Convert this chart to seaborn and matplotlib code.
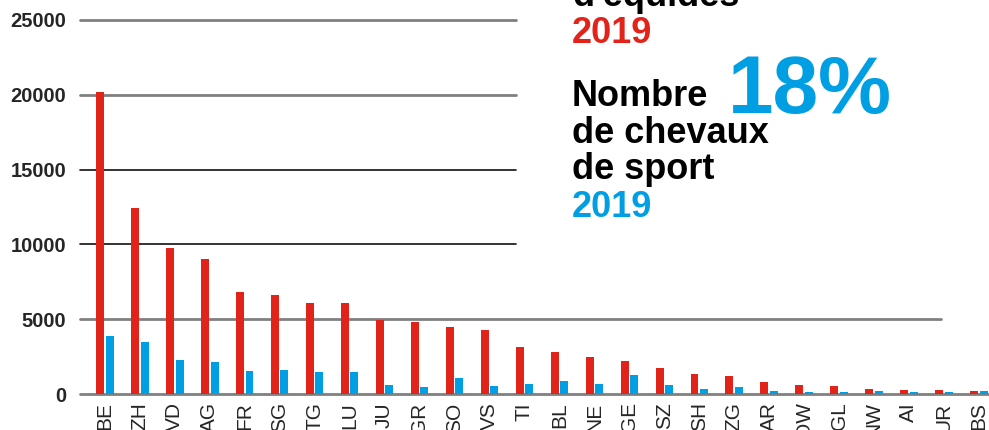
import numpy as np
import pandas as pd
import seaborn as sns
import matplotlib.pyplot as plt

# cantons, sorted by total number of equids
cantons = ['BE', 'ZH', 'VD', 'AG', 'FR', 'SG', 'TG', 'LU', 'JU', 'GR', 'SO', 'VS', 'TI',
           'BL', 'NE', 'GE', 'SZ', 'SH', 'ZG', 'AR', 'OW', 'GL', 'NW', 'AI', 'UR', 'BS']
equides_2019 = [20150, 12450, 9750, 9000, 6800, 6600, 6050, 6050, 4950, 4800, 4450, 4270, 3140,
                2800, 2470, 2200, 1740, 1340, 1200, 800, 600, 530, 330, 270, 270, 200]
sport_2019 = [3850, 3500, 2270, 2140, 1540, 1600, 1470, 1470, 600, 470, 1070, 530, 670,
              870, 670, 1270, 600, 330, 470, 200, 130, 130, 200, 130, 130, 200]
y_ticks = [0, 5000, 10000, 15000, 20000, 25000]

red = '#E2231A'
blue = '#009FE3'

df = pd.DataFrame({'canton': cantons * 2,
                   'serie': ['equides'] * len(cantons) + ['sport'] * len(cantons),
                   'nombre': equides_2019 + sport_2019})

sns.set_style('white')
plt.rcParams['font.family'] = ['Liberation Sans', 'DejaVu Sans']

fig = plt.figure(figsize=(9.89, 4.30), dpi=100)
ax = fig.add_axes([80 / 989, 36 / 430, 909 / 989, 394 / 430])

sns.barplot(data=df, x='canton', y='nombre', hue='serie', hue_order=['equides', 'sport'],
            palette=[red, blue], width=0.54, gap=0.16, saturation=1, linewidth=0,
            legend=False, ax=ax)

ax.set_xlim(-0.714, 25.29)
ax.set_ylim(0, 26330)
ax.set_xlabel('')
ax.set_ylabel('')
sns.despine(ax=ax, left=True, bottom=True, top=True, right=True)

# horizontal rules, cut where the text block sits
line_styles = {0: ('#808080', 2.0, 1.0), 5000: ('#808080', 2.0, 0.947),
               10000: ('#111111', 1.2, 0.48), 15000: ('#111111', 1.2, 0.48),
               20000: ('#808080', 2.0, 0.48), 25000: ('#808080', 2.0, 0.48)}
for t in y_ticks:
    c, lw, xm = line_styles[t]
    ax.axhline(t, xmin=0, xmax=xm, color=c, lw=lw, zorder=0, clip_on=False)

ax.set_yticks(y_ticks)
ax.set_yticklabels([str(t) for t in y_ticks], fontsize=14.5, fontweight='bold')
ax.tick_params(axis='y', length=0, pad=10)
ax.tick_params(axis='x', length=0, pad=6, labelsize=15, rotation=90)

# text block on the right
def fy(px):
    return 1 - px / 430

x0 = 572 / 989
fig.text(x0, fy(6), "d'équidés", fontsize=26, fontweight='bold', color='black', va='baseline')
fig.text(x0, fy(43), '2019', fontsize=26, fontweight='bold', color=red, va='baseline')
fig.text(x0, fy(106), 'Nombre', fontsize=26, fontweight='bold', color='black', va='baseline')
fig.text(x0, fy(143), 'de chevaux', fontsize=26, fontweight='bold', color='black', va='baseline')
fig.text(x0, fy(179), 'de sport', fontsize=26, fontweight='bold', color='black', va='baseline')
fig.text(x0, fy(217), '2019', fontsize=26, fontweight='bold', color=blue, va='baseline')
fig.text(728 / 989, fy(113), '18%', fontsize=59, fontweight='bold', color=blue, va='baseline')

fig.savefig('out.png', dpi=100)
